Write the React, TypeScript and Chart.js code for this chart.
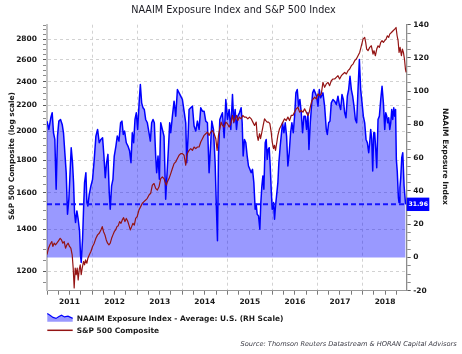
import React, { useEffect, useRef } from 'react';
import { Chart, registerables } from 'chart.js';

Chart.register(...registerables);

// ---------- DATA ----------
const naaimDates = [
  2011.000, 2011.040, 2011.085, 2011.115, 2011.144, 2011.174, 2011.203, 2011.233, 2011.263, 2011.300,
  2011.337, 2011.366, 2011.396, 2011.426, 2011.455, 2011.485, 2011.515, 2011.537, 2011.566, 2011.589,
  2011.611, 2011.633, 2011.663, 2011.692, 2011.722, 2011.744, 2011.759, 2011.789, 2011.811, 2011.833,
  2011.863, 2011.885, 2011.907, 2011.937, 2011.974, 2012.011, 2012.048, 2012.085, 2012.122, 2012.159,
  2012.196, 2012.233, 2012.263, 2012.292, 2012.322, 2012.352, 2012.381, 2012.403, 2012.433, 2012.463,
  2012.492, 2012.529, 2012.559, 2012.596, 2012.633, 2012.663, 2012.692, 2012.722, 2012.759, 2012.796,
  2012.833, 2012.863, 2012.892, 2012.922, 2012.952, 2012.981, 2013.011, 2013.048, 2013.071, 2013.100,
  2013.130, 2013.159, 2013.189, 2013.226, 2013.263, 2013.293, 2013.322, 2013.352, 2013.381, 2013.411,
  2013.433, 2013.463, 2013.493, 2013.523, 2013.559, 2013.596, 2013.633, 2013.656, 2013.693, 2013.722,
  2013.745, 2013.782, 2013.819, 2013.856, 2013.893, 2013.930, 2013.967, 2014.004, 2014.041, 2014.078,
  2014.100, 2014.130, 2014.152, 2014.189, 2014.226, 2014.263, 2014.300, 2014.337, 2014.374, 2014.411,
  2014.448, 2014.485, 2014.522, 2014.559, 2014.596, 2014.633, 2014.656, 2014.693, 2014.730, 2014.759,
  2014.782, 2014.804, 2014.834, 2014.863, 2014.893, 2014.930, 2014.967, 2015.004, 2015.041, 2015.078,
  2015.115, 2015.144, 2015.174, 2015.204, 2015.233, 2015.270, 2015.307, 2015.330, 2015.352, 2015.381,
  2015.411, 2015.441, 2015.470, 2015.500, 2015.530, 2015.559, 2015.589, 2015.618, 2015.641, 2015.663,
  2015.693, 2015.722, 2015.744, 2015.767, 2015.789, 2015.811, 2015.841, 2015.863, 2015.885, 2015.907,
  2015.930, 2015.952, 2015.974, 2015.996, 2016.026, 2016.048, 2016.070, 2016.100, 2016.122, 2016.144,
  2016.174, 2016.196, 2016.226, 2016.256, 2016.285, 2016.315, 2016.344, 2016.374, 2016.404, 2016.433,
  2016.463, 2016.493, 2016.522, 2016.552, 2016.581, 2016.611, 2016.641, 2016.670, 2016.700, 2016.730,
  2016.759, 2016.789, 2016.811, 2016.841, 2016.863, 2016.893, 2016.922, 2016.952, 2016.981, 2017.011,
  2017.041, 2017.070, 2017.122, 2017.159, 2017.196, 2017.219, 2017.248, 2017.278, 2017.307, 2017.344,
  2017.381, 2017.419, 2017.455, 2017.485, 2017.515, 2017.544, 2017.574, 2017.604, 2017.633, 2017.663,
  2017.692, 2017.722, 2017.752, 2017.781, 2017.811, 2017.841, 2017.870, 2017.900, 2017.930, 2017.959,
  2017.989, 2018.018, 2018.048, 2018.078, 2018.107, 2018.137, 2018.159, 2018.181, 2018.204, 2018.226,
  2018.248, 2018.270, 2018.293, 2018.315, 2018.344, 2018.374, 2018.404, 2018.433, 2018.463, 2018.493,
  2018.515, 2018.537, 2018.559, 2018.581, 2018.604, 2018.626, 2018.648, 2018.670, 2018.693, 2018.715,
  2018.733, 2018.750, 2018.770, 2018.796, 2018.810, 2018.830, 2018.848, 2018.870, 2018.893, 2018.922,
  2018.955,
];
const naaimValues = [
  82, 77, 84, 87, 75, 71, 41, 73, 82, 83,
  80, 75, 63, 51, 26, 35, 53, 66, 57, 45,
  27, 21, 28, 23, 16, 1, -3, 11, 29, 45,
  51, 33, 31, 38, 43, 47, 59, 73, 77, 69,
  71, 72, 61, 48, 57, 62, 39, 29, 43, 47,
  61, 67, 73, 70, 81, 82, 74, 76, 69, 67,
  64, 57, 75, 69, 83, 87, 77, 95, 104, 93,
  90, 89, 83, 81, 75, 70, 81, 83, 81, 61,
  51, 61, 47, 81, 77, 73, 35, 47, 65, 81,
  75, 85, 94, 85, 101, 99, 97, 95, 88, 81,
  57, 73, 89, 90, 91, 79, 76, 82, 77, 90,
  88, 88, 82, 81, 51, 69, 82, 77, 57, 29,
  10, 61, 83, 85, 87, 72, 95, 83, 89, 77,
  98, 81, 89, 77, 85, 87, 90, 81, 61, 71,
  69, 61, 55, 53, 51, 53, 45, 29, 32, 26,
  25, 17, 33, 43, 49, 41, 69, 71, 59, 65,
  66, 55, 41, 29, 33, 23, 31, 39, 45, 57,
  67, 73, 81, 75, 81, 73, 55, 63, 75, 81,
  75, 85, 99, 101, 91, 95, 87, 75, 85, 85,
  77, 87, 65, 81, 89, 99, 101, 99, 97, 91,
  101, 96, 99, 91, 77, 74, 81, 82, 93, 95,
  94, 92, 97, 92, 89, 98, 95, 87, 84, 97,
  101, 109, 101, 97, 91, 83, 81, 101, 119, 101,
  93, 85, 81, 71, 69, 63, 69, 77, 71, 52,
  75, 75, 65, 54, 83, 85, 95, 103, 93, 77,
  87, 85, 81, 84, 77, 81, 89, 83, 90, 85,
  89, 59, 52, 36, 33, 42, 48, 60, 63, 43,
  31.96,
];

const spxDates = [
  2011.000, 2011.033, 2011.070, 2011.107, 2011.129, 2011.159, 2011.189, 2011.218, 2011.255, 2011.292,
  2011.322, 2011.352, 2011.381, 2011.411, 2011.441, 2011.470, 2011.500, 2011.529, 2011.559, 2011.581,
  2011.603, 2011.626, 2011.648, 2011.670, 2011.692, 2011.715, 2011.737, 2011.759, 2011.781, 2011.811,
  2011.833, 2011.855, 2011.885, 2011.907, 2011.937, 2011.974, 2012.011, 2012.048, 2012.085, 2012.122,
  2012.159, 2012.196, 2012.226, 2012.255, 2012.285, 2012.315, 2012.344, 2012.374, 2012.403, 2012.433,
  2012.463, 2012.492, 2012.522, 2012.552, 2012.581, 2012.611, 2012.641, 2012.670, 2012.700, 2012.729,
  2012.759, 2012.789, 2012.818, 2012.848, 2012.878, 2012.907, 2012.937, 2012.967, 2013.000, 2013.041,
  2013.078, 2013.115, 2013.152, 2013.189, 2013.226, 2013.263, 2013.300, 2013.337, 2013.374, 2013.411,
  2013.448, 2013.485, 2013.522, 2013.559, 2013.596, 2013.619, 2013.648, 2013.670, 2013.707, 2013.745,
  2013.782, 2013.819, 2013.856, 2013.893, 2013.930, 2013.967, 2014.004, 2014.041, 2014.078, 2014.100,
  2014.130, 2014.152, 2014.189, 2014.226, 2014.263, 2014.300, 2014.337, 2014.374, 2014.411, 2014.448,
  2014.485, 2014.522, 2014.559, 2014.596, 2014.633, 2014.670, 2014.707, 2014.745, 2014.774, 2014.804,
  2014.834, 2014.863, 2014.893, 2014.930, 2014.967, 2015.004, 2015.041, 2015.078, 2015.115, 2015.144,
  2015.174, 2015.204, 2015.233, 2015.270, 2015.307, 2015.344, 2015.381, 2015.418, 2015.455, 2015.492,
  2015.530, 2015.567, 2015.604, 2015.641, 2015.663, 2015.685, 2015.715, 2015.737, 2015.767, 2015.796,
  2015.826, 2015.855, 2015.885, 2015.915, 2015.944, 2015.974, 2015.996, 2016.026, 2016.048, 2016.070,
  2016.100, 2016.122, 2016.159, 2016.196, 2016.233, 2016.270, 2016.307, 2016.344, 2016.381, 2016.418,
  2016.455, 2016.492, 2016.530, 2016.567, 2016.604, 2016.641, 2016.678, 2016.715, 2016.752, 2016.789,
  2016.818, 2016.848, 2016.878, 2016.907, 2016.937, 2016.974, 2017.011, 2017.048, 2017.085, 2017.122,
  2017.159, 2017.196, 2017.233, 2017.270, 2017.307, 2017.344, 2017.381, 2017.418, 2017.455, 2017.492,
  2017.530, 2017.567, 2017.604, 2017.641, 2017.678, 2017.715, 2017.752, 2017.789, 2017.826, 2017.863,
  2017.900, 2017.937, 2017.974, 2018.011, 2018.048, 2018.070, 2018.092, 2018.122, 2018.159, 2018.196,
  2018.233, 2018.255, 2018.285, 2018.315, 2018.344, 2018.374, 2018.404, 2018.433, 2018.463, 2018.492,
  2018.522, 2018.552, 2018.581, 2018.604, 2018.641, 2018.678, 2018.715, 2018.744, 2018.767, 2018.789,
  2018.811, 2018.833, 2018.863, 2018.885, 2018.907, 2018.930, 2018.952, 2018.967,
];
const spxValues = [
  1276, 1306, 1325, 1338, 1314, 1330, 1322, 1330, 1341, 1354,
  1346, 1330, 1338, 1306, 1322, 1330, 1314, 1306, 1274, 1214,
  1129, 1214, 1185, 1214, 1163, 1207, 1229, 1185, 1214, 1244,
  1229, 1251, 1236, 1259, 1274, 1290, 1314, 1330, 1354, 1371,
  1379, 1396, 1413, 1387, 1371, 1346, 1330, 1322, 1330, 1354,
  1371, 1387, 1396, 1413, 1418, 1439, 1430, 1448, 1460, 1439,
  1456, 1442, 1421, 1396, 1413, 1430, 1421, 1456, 1465, 1502,
  1520, 1539, 1548, 1557, 1567, 1586, 1596, 1644, 1654, 1625,
  1615, 1634, 1684, 1694, 1684, 1664, 1644, 1664, 1684, 1715,
  1747, 1779, 1790, 1812, 1834, 1845, 1845, 1834, 1768, 1834,
  1856, 1867, 1879, 1867, 1890, 1879, 1890, 1890, 1925, 1948,
  1972, 1984, 1996, 1972, 1996, 2008, 1984, 1948, 1867, 1972,
  2021, 2070, 2045, 2033, 2070, 2058, 2033, 2058, 2121, 2070,
  2095, 2121, 2082, 2108, 2095, 2121, 2108, 2108, 2095, 2108,
  2095, 2070, 2045, 2070, 1972, 1936, 1984, 1948, 1996, 2045,
  2095, 2082, 2070, 2070, 2058, 1996, 1925, 1879, 1902, 1867,
  1925, 1972, 2021, 2045, 2070, 2095, 2082, 2108, 2082, 2121,
  2121, 2147, 2173, 2186, 2147, 2160, 2147, 2173, 2147, 2121,
  2147, 2199, 2240, 2254, 2267, 2254, 2295, 2281, 2295, 2394,
  2351, 2380, 2394, 2365, 2408, 2423, 2423, 2438, 2453, 2423,
  2453, 2468, 2483, 2468, 2498, 2513, 2544, 2559, 2591, 2607,
  2638, 2670, 2736, 2804, 2821, 2770, 2703, 2687, 2720, 2736,
  2654, 2687, 2638, 2703, 2736, 2720, 2770, 2787, 2770, 2787,
  2804, 2838, 2821, 2855, 2872, 2890, 2907, 2925, 2838, 2787,
  2670, 2720, 2638, 2703, 2670, 2607, 2513, 2483,
];

const naaimLatest = 31.96;
const yearLabels = ['2011', '2012', '2013', '2014', '2015', '2016', '2017', '2018'];
const spxTicks = [1200, 1400, 1600, 1800, 2000, 2200, 2400, 2600, 2800];
const naaimTicks = [-20, 0, 20, 40, 60, 80, 100, 120, 140];

const titleText = 'NAAIM Exposure Index and S&P 500 Index';
const leftTitle = 'S&P 500 Composite (log scale)';
const rightTitle = 'NAAIM Exposure Index';
const legendNaaim = 'NAAIM Exposure Index - Average: U.S. (RH Scale)';
const legendSpx = 'S&P 500 Composite';
const sourceText = 'Source: Thomson Reuters Datastream & HORAN Capital Advisors';

// ---------- LAYOUT CONSTANTS ----------
const W = 462;
const H = 354;
const X_MIN = 2011;
const X_MAX = 2018.98;
const PLOT_LEFT = 47;
const PLOT_RIGHT = 406.7;
const PLOT_TOP = 24.7;
const PLOT_BOTTOM = 290.7;

const FONT = '"DejaVu Sans", Verdana, sans-serif';
const BLUE = '#0000ff';
const FILL = 'rgba(0,0,255,0.40)';
const RED = '#941414';
const GRID = '#d2d2d2';

const isInt = (v: number) => Math.abs(v - Math.round(v)) < 1e-6;

const decor = {
  id: 'decor',
  afterDraw(chart: any) {
    const { ctx, chartArea, scales } = chart;
    const fit = (text: string, width: number, weight: string, style: string) => {
      ctx.font = `${style} ${weight} 20px ${FONT}`;
      const w = ctx.measureText(text).width;
      const size = (20 * width) / w;
      ctx.font = `${style} ${weight} ${size.toFixed(2)}px ${FONT}`;
      return size;
    };
    ctx.save();
    // Title
    ctx.fillStyle = '#1a1a22';
    ctx.textAlign = 'center';
    ctx.textBaseline = 'middle';
    fit(titleText, 205, 'normal', 'normal');
    ctx.fillText(titleText, 233.5, 10.5);

    // Left axis title
    ctx.save();
    ctx.translate(12, 156);
    ctx.rotate(-Math.PI / 2);
    ctx.fillStyle = '#1a1a1a';
    fit(leftTitle, 128, 'bold', 'normal');
    ctx.fillText(leftTitle, 0, 0);
    ctx.restore();

    // Right axis title
    ctx.save();
    ctx.translate(445, 156.5);
    ctx.rotate(Math.PI / 2);
    ctx.fillStyle = '#1a1a1a';
    fit(rightTitle, 97, 'bold', 'normal');
    ctx.fillText(rightTitle, 0, 0);
    ctx.restore();

    // Latest value box on right axis
    const py = scales.yR.getPixelForValue(naaimLatest);
    ctx.fillStyle = BLUE;
    ctx.fillRect(chartArea.right, py - 6.7, 22.6, 13.4);
    ctx.fillStyle = '#ffffff';
    fit(naaimLatest.toFixed(2), 19.5, 'bold', 'normal');
    ctx.fillText(naaimLatest.toFixed(2), chartArea.right + 11.5, py + 0.5);

    // Legend item 1 (area)
    const pts = [
      [47.3, 313.5], [50, 315.2], [53, 317.4], [56, 318.4], [59, 316.6],
      [61.5, 315.2], [64.5, 316.9], [68, 316.1], [72.7, 318.4],
    ];
    ctx.beginPath();
    ctx.moveTo(pts[0][0], 321.8);
    pts.forEach((p) => ctx.lineTo(p[0], p[1]));
    ctx.lineTo(72.7, 321.8);
    ctx.closePath();
    ctx.fillStyle = FILL;
    ctx.fill();
    ctx.beginPath();
    pts.forEach((p, i) => (i ? ctx.lineTo(p[0], p[1]) : ctx.moveTo(p[0], p[1])));
    ctx.strokeStyle = BLUE;
    ctx.lineWidth = 1.2;
    ctx.stroke();

    ctx.fillStyle = '#1a1a1a';
    ctx.textAlign = 'left';
    const lsize = fit(legendNaaim, 207, 'bold', 'normal');
    ctx.fillText(legendNaaim, 76.7, 318.8);

    // Legend item 2 (line)
    ctx.beginPath();
    ctx.moveTo(47.3, 330.3);
    ctx.lineTo(72.7, 330.3);
    ctx.strokeStyle = RED;
    ctx.lineWidth = 1.5;
    ctx.stroke();
    ctx.font = `normal bold ${lsize.toFixed(2)}px ${FONT}`;
    ctx.fillStyle = '#1a1a1a';
    ctx.fillText(legendSpx, 76.7, 330.6);

    // Source
    ctx.fillStyle = '#3a3a44';
    ctx.textAlign = 'right';
    fit(sourceText, 216.7, 'normal', 'italic');
    ctx.fillText(sourceText, 456.7, 344.3);

    ctx.restore();
  },
};

export default function App() {
  const ref = useRef<HTMLCanvasElement | null>(null);

  useEffect(() => {
    document.body.style.margin = '0';
    const canvas = ref.current;
    if (!canvas) return;

    const naaimData = naaimDates.map((d, i) => ({ x: d, y: naaimValues[i] }));
    const spxData = spxDates.map((d, i) => ({ x: d, y: spxValues[i] }));
    const latestData = [
      { x: X_MIN, y: naaimLatest },
      { x: X_MAX, y: naaimLatest },
    ];

    const tickFont = { family: FONT, weight: 'bold' as const, size: 7.5 };

    const chart = new Chart(canvas, {
      type: 'line',
      data: {
        datasets: [
          {
            label: legendSpx,
            data: spxData,
            yAxisID: 'yL',
            borderColor: RED,
            borderWidth: 1.2,
            pointRadius: 0,
            fill: false,
            tension: 0,
            borderJoinStyle: 'round',
            order: 0,
          },
          {
            label: 'latest',
            data: latestData,
            yAxisID: 'yR',
            borderColor: '#1414ff',
            borderWidth: 2,
            borderDash: [5, 3],
            pointRadius: 0,
            fill: false,
            order: 1,
          },
          {
            label: legendNaaim,
            data: naaimData,
            yAxisID: 'yR',
            borderColor: BLUE,
            borderWidth: 1.5,
            backgroundColor: FILL,
            fill: { value: 0 },
            pointRadius: 0,
            tension: 0,
            borderJoinStyle: 'round',
            order: 2,
          },
        ],
      },
      options: {
        responsive: false,
        animation: false,
        events: [],
        layout: { padding: { top: PLOT_TOP, left: 0, right: 0, bottom: 0 } },
        plugins: {
          legend: { display: false },
          tooltip: { enabled: false },
          title: { display: false },
        },
        scales: {
          x: {
            type: 'linear',
            min: X_MIN,
            max: X_MAX,
            bounds: 'data',
            afterBuildTicks: (axis: any) => {
              const t: any[] = [];
              for (let q = 0; X_MIN + q * 0.25 < X_MAX; q++) t.push({ value: X_MIN + q * 0.25 });
              axis.ticks = t;
            },
            afterFit: (axis: any) => {
              axis.height = H - PLOT_BOTTOM;
              axis.paddingLeft = 0;
              axis.paddingRight = 0;
            },
            ticks: {
              autoSkip: false,
              maxRotation: 0,
              minRotation: 0,
              padding: 3,
              font: tickFont,
              color: '#1a1a1a',
              callback: (v: any) => {
                const y = Number(v) - 0.5;
                if (isInt(y)) return yearLabels[Math.round(y) - 2011] ?? '';
                return '';
              },
            },
            grid: {
              color: (c: any) => {
                const v = c.tick ? c.tick.value : NaN;
                return v > X_MIN + 0.1 && isInt(v) ? GRID : 'rgba(0,0,0,0)';
              },
              lineWidth: 1,
              drawTicks: true,
              tickLength: 4,
              tickColor: '#7a7a7a',
              tickWidth: 1,
              tickBorderDash: [],
            },
            border: { display: true, color: '#9a9a9a', width: 1, dash: [3, 3] },
          },
          yL: {
            type: 'logarithmic',
            position: 'left',
            min: 1118,
            max: 2955,
            bounds: 'data',
            afterBuildTicks: (axis: any) => {
              const t: any[] = [];
              for (let v = 1150; v <= 2950; v += 50) t.push({ value: v });
              axis.ticks = t;
            },
            afterFit: (axis: any) => {
              axis.width = PLOT_LEFT;
              axis.paddingTop = 0;
              axis.paddingBottom = 0;
            },
            ticks: {
              autoSkip: false,
              padding: 6,
              font: tickFont,
              color: '#1a1a1a',
              callback: (v: any) => (spxTicks.includes(Number(v)) ? String(v) : ''),
            },
            grid: {
              color: (c: any) => (c.tick && spxTicks.includes(c.tick.value) ? GRID : 'rgba(0,0,0,0)'),
              lineWidth: 1,
              tickLength: 4,
              tickColor: (c: any) => (c.tick && spxTicks.includes(c.tick.value) ? '#5a5a5a' : '#8a8a8a'),
              tickWidth: 1,
              tickBorderDash: [],
            },
            border: { display: true, color: '#c4c4c4', width: 2, dash: [3, 3] },
          },
          yR: {
            type: 'linear',
            position: 'right',
            min: -20,
            max: 140,
            bounds: 'data',
            afterBuildTicks: (axis: any) => {
              const t: any[] = [];
              for (let v = -20; v <= 140; v += 5) t.push({ value: v });
              axis.ticks = t;
            },
            afterFit: (axis: any) => {
              axis.width = W - PLOT_RIGHT;
              axis.paddingTop = 0;
              axis.paddingBottom = 0;
            },
            ticks: {
              autoSkip: false,
              padding: 2.5,
              font: tickFont,
              color: '#1a1a1a',
              callback: (v: any) => (naaimTicks.includes(Number(v)) ? String(v) : ''),
            },
            grid: {
              drawOnChartArea: false,
              tickLength: 4,
              tickColor: (c: any) => (c.tick && naaimTicks.includes(c.tick.value) ? '#5a5a5a' : '#8a8a8a'),
              tickWidth: 1,
              tickBorderDash: [],
            },
            border: { display: true, color: '#8c8c8c', width: 1.3 },
          },
        },
      } as any,
      plugins: [decor],
    });

    return () => chart.destroy();
  }, []);

  return (
    <div style={{ position: 'fixed', left: 0, top: 0, width: W, height: H, background: '#fff' }}>
      <canvas ref={ref} width={W} height={H} style={{ display: 'block', width: W, height: H }} />
    </div>
  );
}
